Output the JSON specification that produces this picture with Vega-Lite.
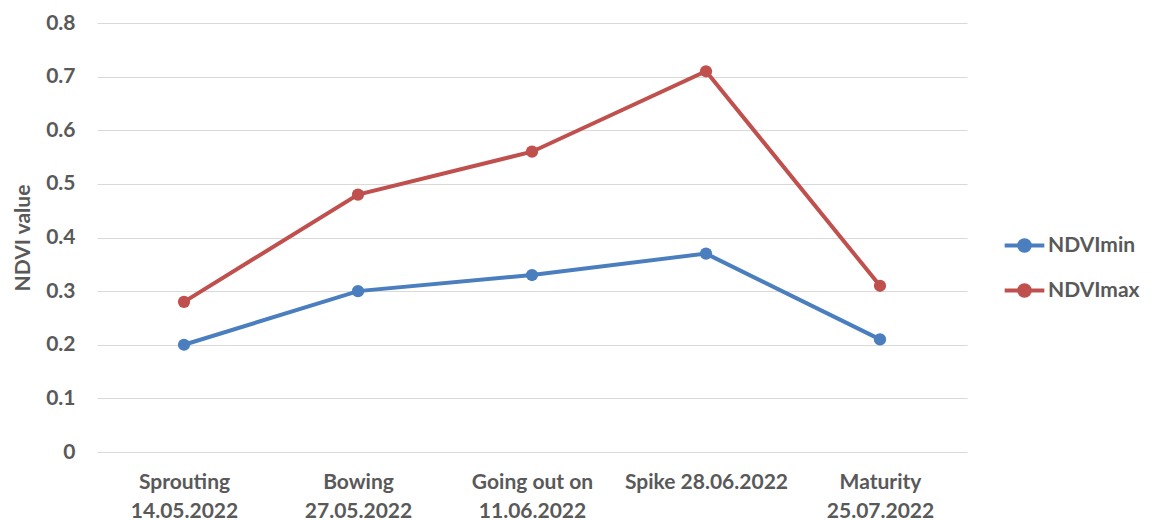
{
  "$schema": "https://vega.github.io/schema/vega-lite/v6.json",
  "width": 870,
  "height": 429,
  "autosize": "none",
  "padding": {"left": 97, "top": 23, "right": 189, "bottom": 68},
  "background": "white",
  "data": {
    "values": [
      {"stage": "Sprouting|14.05.2022", "series": "NDVImin", "value": 0.20},
      {"stage": "Bowing|27.05.2022", "series": "NDVImin", "value": 0.30},
      {"stage": "Going out on|11.06.2022", "series": "NDVImin", "value": 0.33},
      {"stage": "Spike 28.06.2022", "series": "NDVImin", "value": 0.37},
      {"stage": "Maturity|25.07.2022", "series": "NDVImin", "value": 0.21},
      {"stage": "Sprouting|14.05.2022", "series": "NDVImax", "value": 0.28},
      {"stage": "Bowing|27.05.2022", "series": "NDVImax", "value": 0.48},
      {"stage": "Going out on|11.06.2022", "series": "NDVImax", "value": 0.56},
      {"stage": "Spike 28.06.2022", "series": "NDVImax", "value": 0.71},
      {"stage": "Maturity|25.07.2022", "series": "NDVImax", "value": 0.31}
    ]
  },
  "config": {
    "view": {"stroke": null},
    "font": "Lato"
  },
  "mark": {"type": "line", "strokeWidth": 4, "point": {"size": 150, "filled": true, "opacity": 1}},
  "encoding": {
    "x": {
      "field": "stage",
      "type": "nominal",
      "sort": null,
      "scale": {"type": "point", "padding": 0.5},
      "axis": {
        "title": null,
        "labelAngle": 0,
        "labelExpr": "split(datum.label, '|')",
        "labelFont": "Lato",
        "labelFontWeight": "bold",
        "labelFontSize": 21,
        "labelColor": "#595959",
        "labelLineHeight": 29,
        "labelPadding": 19,
        "domain": false,
        "ticks": false,
        "grid": false
      }
    },
    "y": {
      "field": "value",
      "type": "quantitative",
      "scale": {"domain": [0, 0.8]},
      "axis": {
        "title": "NDVI value",
        "titleFont": "Lato",
        "titleFontWeight": "bold",
        "titleFontSize": 21,
        "titleColor": "#595959",
        "titlePadding": 12,
        "values": [0, 0.1, 0.2, 0.3, 0.4, 0.5, 0.6, 0.7, 0.8],
        "format": "~g",
        "labelFont": "Lato",
        "labelFontWeight": "bold",
        "labelFontSize": 21,
        "labelColor": "#595959",
        "labelPadding": 22,
        "domain": false,
        "ticks": false,
        "grid": true,
        "gridColor": "#d9d9d9",
        "gridWidth": 1.2
      }
    },
    "color": {
      "field": "series",
      "type": "nominal",
      "sort": ["NDVImin", "NDVImax"],
      "scale": {"domain": ["NDVImin", "NDVImax"], "range": ["#4a7ebf", "#c0504d"]},
      "legend": {
        "title": null,
        "orient": "none",
        "legendX": 912,
        "legendY": 207,
        "symbolType": "M-1.5,0L1.5,0M0.4,0A0.4,0.4,0,1,1,-0.4,0A0.4,0.4,0,1,1,0.4,0Z",
        "symbolSize": 700,
        "symbolStrokeWidth": 4,
        "labelFont": "Lato",
        "labelFontWeight": "bold",
        "labelFontSize": 21,
        "labelColor": "#595959",
        "labelOffset": 8,
        "rowPadding": 16,
        "encode": {
          "symbols": {"update": {"fill": {"scale": "color", "field": "value"}, "fillOpacity": {"value": 1}}}
        }
      }
    }
  }
}
